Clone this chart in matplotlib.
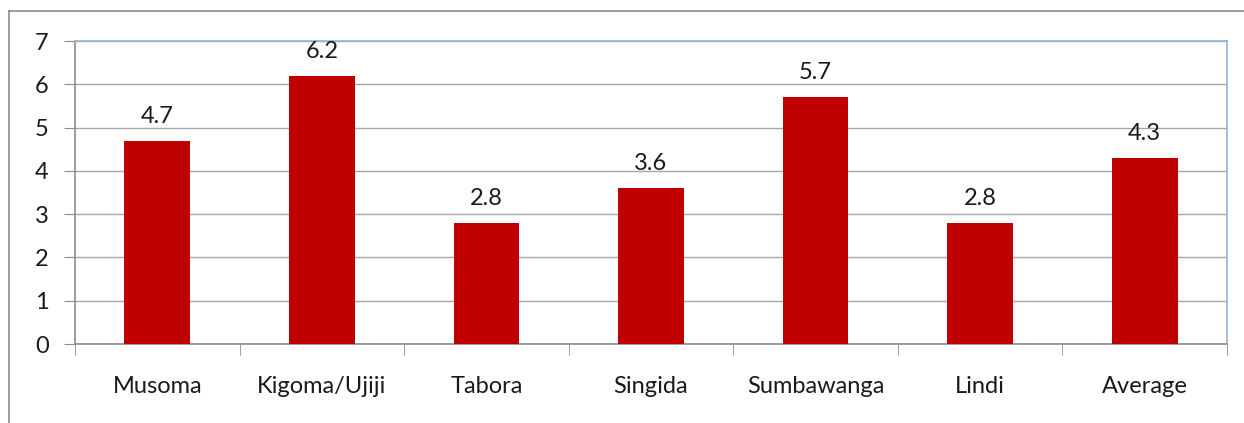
import matplotlib
matplotlib.use("Agg")
import matplotlib.pyplot as plt
from matplotlib.lines import Line2D
import numpy as np

towns = ["Musoma", "Kigoma/Ujiji", "Tabora", "Singida", "Sumbawanga", "Lindi", "Average"]
values = [4.7, 6.2, 2.8, 3.6, 5.7, 2.8, 4.3]

plt.rcParams["font.family"] = ["Lato", "DejaVu Sans"]

fig = plt.figure(figsize=(12.44, 4.23), dpi=100)
ax = fig.add_axes([75 / 1244, 79 / 423, 1152 / 1244, 303 / 423])

x = np.arange(len(towns))
ax.bar(x, values, width=0.4, color="#c00000", zorder=3)
for xi, v in zip(x, values):
    ax.annotate(f"{v}", xy=(xi, v), xytext=(0, 10), textcoords="offset points",
                ha="center", va="bottom", fontsize=17, color="#1a1a1a")

ax.set_xlim(-0.5, len(towns) - 0.5)
ax.set_ylim(0, 7)
ax.set_yticks(range(8))
ax.yaxis.grid(True, color="#a6a6a6", lw=1, zorder=0)
ax.set_xticks(x)
ax.set_xticklabels(towns, fontsize=17, color="#1a1a1a")
ax.tick_params(axis="x", length=0, pad=23)
ax.tick_params(axis="y", labelsize=17, colors="#1a1a1a", length=8, color="#8c8c8c", pad=11)
ax.set_xticks(np.arange(-0.5, len(towns)), minor=True)
ax.tick_params(axis="x", which="minor", length=8, color="#8c8c8c")

for s in ["top", "right"]:
    ax.spines[s].set_color("#8eb4e3")
    ax.spines[s].set_linewidth(1.2)
for s in ["left", "bottom"]:
    ax.spines[s].set_color("#8c8c8c")
    ax.spines[s].set_linewidth(1.2)

# outer chart frame
fig.add_artist(Line2D([9 / 1244, 9 / 1244], [0, 1 - 11 / 423], color="#8c8c8c", lw=1.2))
fig.add_artist(Line2D([9 / 1244, 1], [1 - 11 / 423, 1 - 11 / 423], color="#8c8c8c", lw=1.2))

fig.savefig("out.png", dpi=100)
